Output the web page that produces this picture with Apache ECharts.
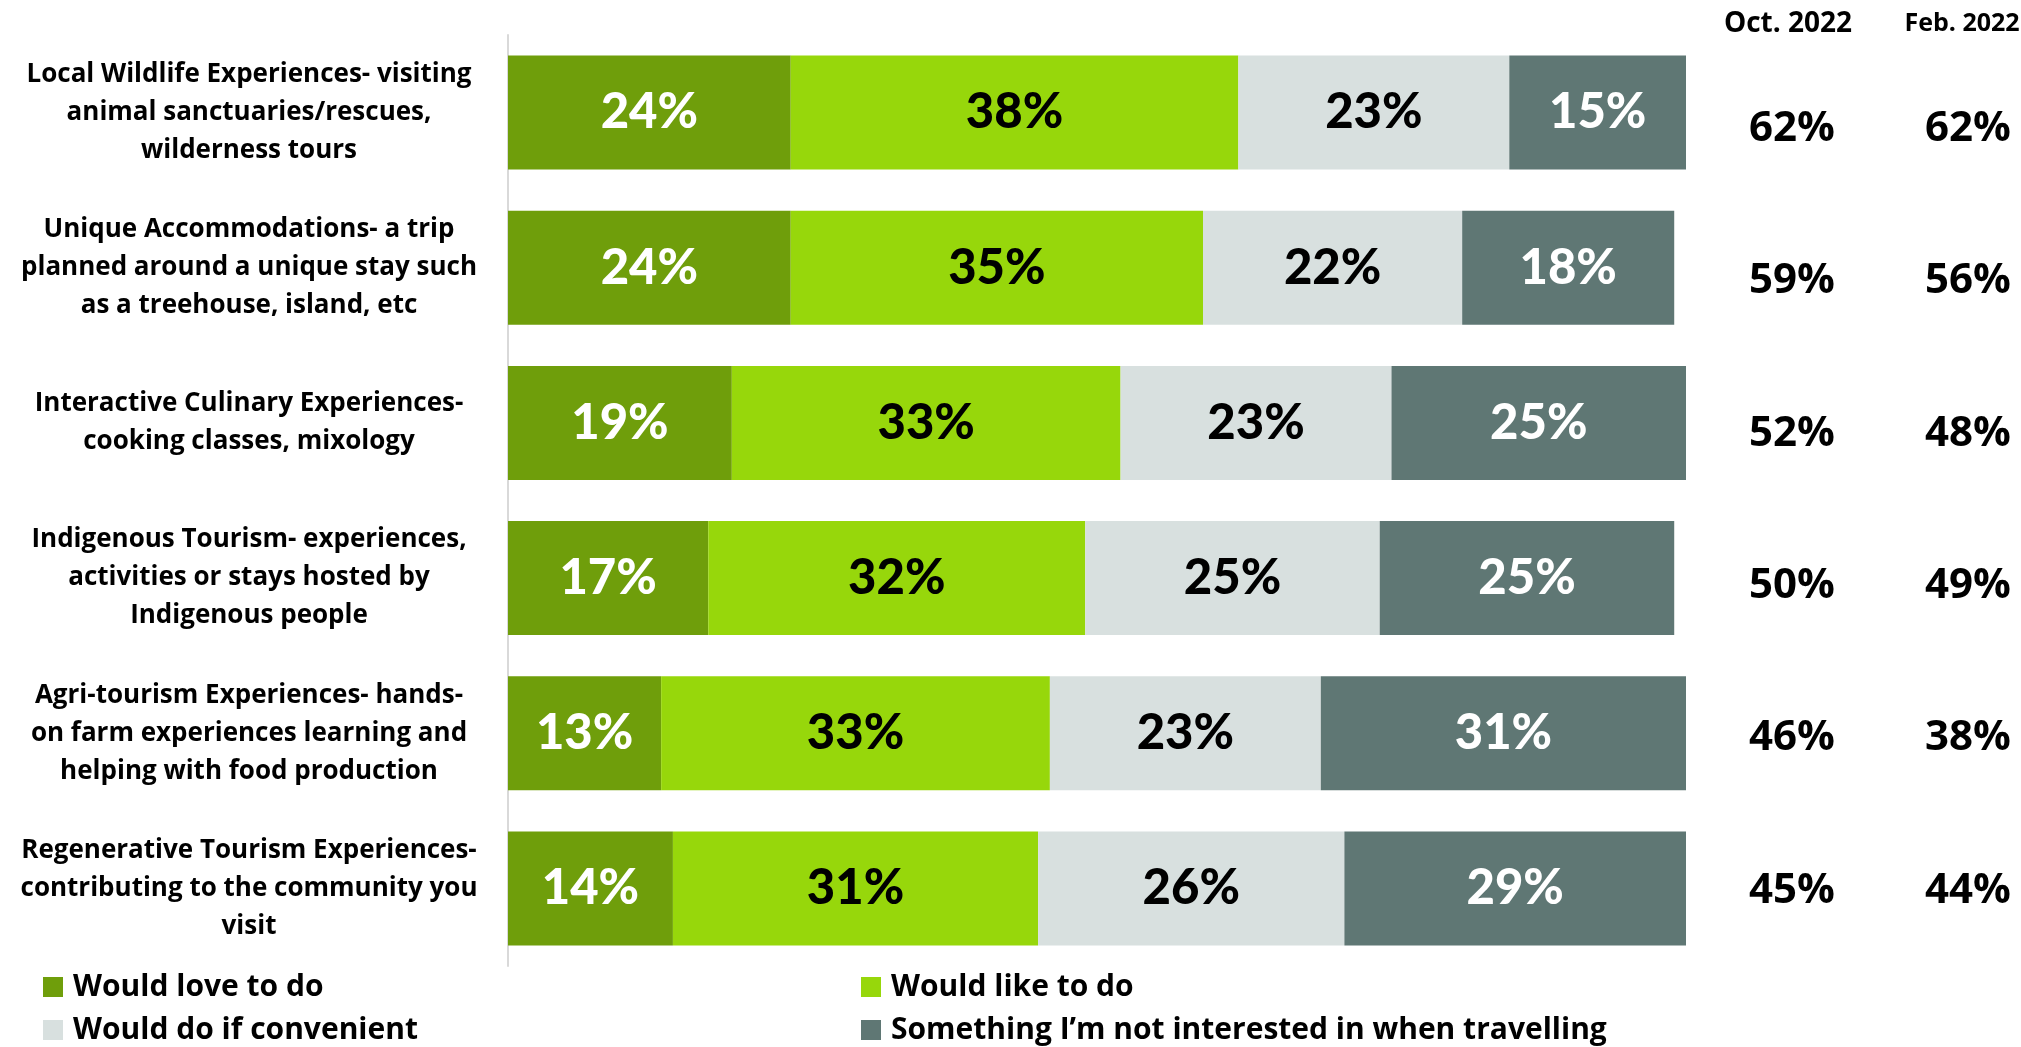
<!DOCTYPE html>
<html>
<head>
<meta charset="utf-8">
<script src="https://cdn.jsdelivr.net/npm/echarts@6/dist/echarts.min.js"></script>
<style>
  html, body { margin: 0; padding: 0; background: #ffffff; }
  #chart { width: 2021px; height: 1047px; }
</style>
</head>
<body>
<div id="chart"></div>
<script>
// Travel experience interest, share of respondents (%)
const categories = [
  'Local Wildlife Experiences- visiting\nanimal sanctuaries/rescues,\nwilderness tours',
  'Unique Accommodations- a trip\nplanned around a unique stay such\nas a treehouse, island, etc',
  'Interactive Culinary Experiences-\ncooking classes, mixology',
  'Indigenous Tourism- experiences,\nactivities or stays hosted by\nIndigenous people',
  'Agri-tourism Experiences- hands-\non farm experiences learning and\nhelping with food production',
  'Regenerative Tourism Experiences-\ncontributing to the community you\nvisit'
];
const loveToDo      = [24, 24, 19, 17, 13, 14];
const likeToDo      = [38, 35, 33, 32, 33, 31];
const ifConvenient  = [23, 22, 23, 25, 23, 26];
const notInterested = [15, 18, 25, 25, 31, 29];
const oct2022 = [62, 59, 52, 50, 46, 45];
const feb2022 = [62, 56, 48, 49, 38, 44];
const seriesNames = ['Would love to do', 'Would like to do', 'Would do if convenient', 'Something I\u2019m not interested in when travelling'];

const FONT = '"Open Sans", Lato, sans-serif';
const BAR_FONT = 'Lato, "Open Sans", sans-serif';
const colors = ['#6f9e0b', '#97d70b', '#d8e0df', '#5f7774'];
const labelColors = ['#ffffff', '#000000', '#000000', '#ffffff'];
const seriesData = [loveToDo, likeToDo, ifConvenient, notInterested];

const chart = echarts.init(document.getElementById('chart'), null, { renderer: 'canvas' });

const barSeries = seriesData.map((d, i) => ({
  name: seriesNames[i],
  type: 'bar',
  stack: 'total',
  xAxisIndex: 0,
  yAxisIndex: 0,
  barWidth: 114,
  data: d,
  itemStyle: { color: colors[i] },
  label: {
    show: true,
    position: 'inside',
    formatter: '{c}%',
    color: labelColors[i],
    fontFamily: BAR_FONT,
    fontWeight: 900,
    fontSize: 49
  },
  emphasis: { disabled: true }
}));

const pct = v => v + '%';
const rightLabel = {
  fontFamily: FONT,
  fontWeight: 'bold',
  fontSize: 42,
  color: '#000000',
  align: 'center'
};
const legendText = { fontFamily: FONT, fontWeight: 'bold', fontSize: 30, lineHeight: 30,
  color: '#000', padding: [0, 0, 0, 5] };

chart.setOption({
  animation: false,
  backgroundColor: '#ffffff',
  title: [
    { text: 'Oct. 2022', left: 1783, top: 5, textAlign: 'center',
      textStyle: { fontFamily: FONT, fontWeight: 'bold', fontSize: 28, color: '#000' } },
    { text: 'Feb. 2022', left: 1957, top: 6, textAlign: 'center',
      textStyle: { fontFamily: FONT, fontWeight: 'bold', fontSize: 25, color: '#000' } }
  ],
  legend: [
    { data: [seriesNames[0], seriesNames[2]], orient: 'vertical', left: 43, top: 972, height: 200,
      padding: 0, itemWidth: 20, itemHeight: 20, itemGap: 13, icon: 'rect', selectedMode: false,
      textStyle: legendText },
    { data: [seriesNames[1], seriesNames[3]], orient: 'vertical', left: 861, top: 972, height: 200,
      padding: 0, itemWidth: 20, itemHeight: 20, itemGap: 13, icon: 'rect', selectedMode: false,
      textStyle: legendText }
  ],
  grid: [
    { left: 508, right: 335, top: 35, height: 931 },
    { left: 1686, width: 1, top: 53, height: 914 }
  ],
  xAxis: [
    { type: 'value', gridIndex: 0, min: 0, max: 100, show: false },
    { type: 'value', gridIndex: 1, min: 0, max: 1, show: false }
  ],
  yAxis: [
    { type: 'category', gridIndex: 0, data: categories, inverse: true,
      axisLine: { show: true, lineStyle: { color: '#d9d9d9', width: 2 } },
      axisTick: { show: false },
      axisLabel: { margin: 259, align: 'center', fontFamily: FONT, fontWeight: 'bold',
        fontSize: 26, lineHeight: 38, color: '#000' } },
    { type: 'category', gridIndex: 1, position: 'right', data: oct2022.map(pct), inverse: true,
      axisLine: { show: false }, axisTick: { show: false },
      axisLabel: Object.assign({ margin: 105 }, rightLabel) },
    { type: 'category', gridIndex: 1, position: 'right', offset: 0, data: feb2022.map(pct), inverse: true,
      axisLine: { show: false }, axisTick: { show: false },
      axisLabel: Object.assign({ margin: 281 }, rightLabel) }
  ],
  series: barSeries
});
</script>
</body>
</html>
